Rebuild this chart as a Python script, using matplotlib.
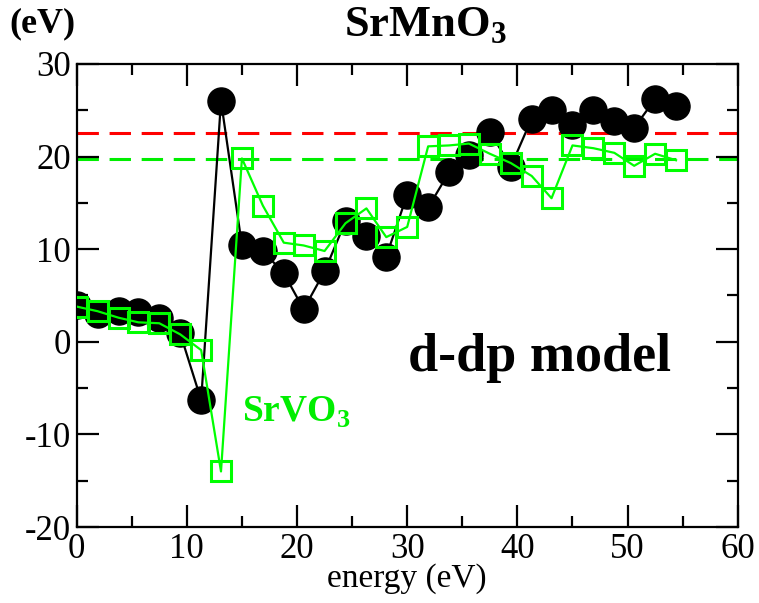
import numpy as np
import matplotlib
matplotlib.use('Agg')
import matplotlib.pyplot as plt
from matplotlib.ticker import MultipleLocator

plt.rcParams['font.family'] = ['Liberation Serif', 'DejaVu Serif']
plt.rcParams['mathtext.fontset'] = 'custom'
plt.rcParams['mathtext.rm'] = 'Liberation Serif'
plt.rcParams['mathtext.bf'] = 'Liberation Serif:bold'
plt.rcParams['axes.unicode_minus'] = False

# energies (eV)
energy = [0.0, 1.9, 3.8, 5.6, 7.5, 9.4, 11.3, 13.1, 15.0, 16.9, 18.8, 20.6, 22.5,
          24.4, 26.3, 28.1, 30.0, 31.9, 33.8, 35.6, 37.5, 39.4, 41.3, 43.1, 45.0,
          46.9, 48.8, 50.6, 52.5, 54.4]
# SrMnO3 (black circles)
srmno3 = [4.0, 3.0, 3.3, 3.2, 2.6, 0.9, -6.3, 26.0, 10.4, 9.8, 7.4, 3.5, 7.6,
          13.0, 11.4, 9.2, 15.9, 14.5, 18.3, 20.2, 22.7, 18.9, 24.1, 25.0, 23.4,
          25.0, 23.8, 23.1, 26.2, 25.5]
# SrVO3 (green squares)
srvo3 = [3.8, 3.3, 2.6, 2.1, 2.0, 0.8, -0.9, -14.0, 19.8, 14.7, 10.7, 10.4, 9.8,
         12.8, 14.4, 11.3, 12.4, 21.1, 21.2, 21.4, 20.3, 19.3, 17.9, 15.5, 21.2,
         20.9, 20.4, 19.0, 20.3, 19.6]
mn_level = 22.5
v_level = 19.7

fig = plt.figure(figsize=(7.59, 6.03), dpi=100)
ax = fig.add_axes([0.101, 0.126, 0.871, 0.768])

ax.axhline(mn_level, color='#ff0000', lw=2.2, ls=(0, (7, 3.5)), zorder=1)
ax.axhline(v_level, color='#00ee00', lw=2.2, ls=(0, (7, 3.5)), zorder=1)

ax.plot(energy, srmno3, '-o', color='black', lw=1.6, ms=19.5, zorder=2)
ax.plot(energy, srvo3, '-s', color='#00ff00', lw=1.6, ms=14, mfc='none',
        mew=2.2, zorder=3)

ax.set_xlim(0, 60)
ax.set_ylim(-20, 30)
ax.xaxis.set_major_locator(MultipleLocator(10))
ax.xaxis.set_minor_locator(MultipleLocator(5))
ax.yaxis.set_major_locator(MultipleLocator(10))
ax.yaxis.set_minor_locator(MultipleLocator(5))
ax.tick_params(which='both', direction='in', top=True, right=True, width=1.6,
               labelsize=25)
ax.tick_params(axis='x', pad=4)
ax.tick_params(axis='y', pad=4)
ax.tick_params(which='major', length=16)
ax.tick_params(which='minor', length=8)
for s in ax.spines.values():
    s.set_linewidth(1.6)

ax.set_xlabel('energy (eV)', fontsize=24, labelpad=-2)
fig.text(0.56, 0.939, r'SrMnO$_\mathbf{3}$', fontsize=32, fontweight='bold',
         ha='center', va='baseline')
fig.text(0.013, 0.947, '(eV)', fontsize=26, fontweight='bold', va='baseline')

ax.text(30.1, -1.8, 'd-dp model', fontsize=39, fontweight='bold', va='center')
ax.text(15.0, -7.6, r'SrVO$_\mathbf{3}$', fontsize=27, fontweight='bold',
        color='#00ee00', va='center')

fig.savefig('out.png', dpi=100)
